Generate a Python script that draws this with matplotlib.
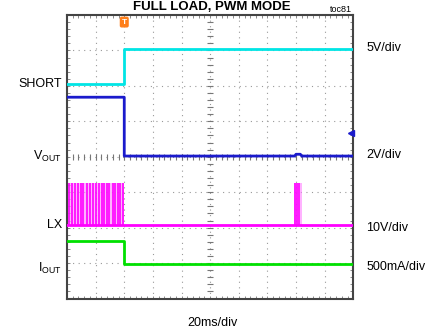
import numpy as np
import matplotlib
matplotlib.use('Agg')
import matplotlib.pyplot as plt

plt.rcParams['font.family'] = ['Liberation Sans']

# traces, x in divisions (20ms/div), y in divisions
cyan_t = [0, 2.0, 2.0, 10]
cyan_v = [6.05, 6.05, 7.05, 7.05]
blue_t = [0, 2.0, 2.0, 7.95, 8.0, 8.15, 8.2, 10]
blue_v = [5.68, 5.68, 4.02, 4.02, 4.07, 4.07, 4.02, 4.02]
green_t = [0, 2.0, 2.0, 10]
green_v = [1.63, 1.63, 0.97, 0.97]
lx_base = 2.08
lx_top = 3.27
lx_pulses = [0.07, 0.17, 0.28, 0.40, 0.48, 0.57, 0.69, 0.80, 0.92, 1.01,
             1.13, 1.21, 1.30, 1.38, 1.47, 1.59, 1.67, 1.78, 1.84, 1.94,
             7.95, 8.03, 8.12]
lx_bursts = [(0.0, 2.0), (7.92, 8.2)]
trigger_t = 2.0

left_labels = [('SHORT', 6.06), ('V$_{\\mathregular{OUT}}$', 4.0), ('LX', 2.08), ('I$_{\\mathregular{OUT}}$', 0.86)]
right_labels = [('5V/div', 7.07), ('2V/div', 4.05), ('10V/div', 2.0), ('500mA/div', 0.9)]

fig = plt.figure(figsize=(4.35, 3.31), dpi=100)
ax = fig.add_axes([67/435, 1-298.5/331, (353.3-67)/435, (298.5-15)/331])
ax.set_xlim(0, 10)
ax.set_ylim(0, 8)

# grid
for gx in range(1, 10):
    ax.axvline(gx, color='#999999', lw=0.8, ls=(0, (1, 4)), zorder=1)
for gy in range(1, 8):
    ax.axhline(gy, color='#999999', lw=0.8, ls=(0, (1, 4)), zorder=1)
mt = np.arange(0, 10.01, 0.2)
ax.plot(mt, [4]*len(mt), ls='none', marker='|', ms=4, color='#777777', mew=0.8, zorder=1)
mt = np.arange(0, 8.01, 0.2)
ax.plot([5]*len(mt), mt, ls='none', marker='_', ms=4, color='#777777', mew=0.8, zorder=1)

ax.set_xticks(np.arange(0, 10.01, 0.2))
ax.set_yticks(np.arange(0, 8.01, 0.2))
ax.tick_params(direction='in', length=2.5, width=0.6, color='#777777',
               top=True, right=True, labelbottom=False, labelleft=False)
for s in ax.spines.values():
    s.set_color('#444444')
    s.set_linewidth(1.5)

# LX
for a, b in lx_bursts:
    ax.fill_between([a, b], lx_base, lx_top, color='#ff80ff', alpha=0.6, lw=0, zorder=2)
ax.vlines(lx_pulses, lx_base, lx_top, color='#ff00ff', lw=1.2, zorder=3)
ax.plot([0, 10], [lx_base, lx_base], color='#ff00ff', lw=2, zorder=3)

ax.plot(cyan_t, cyan_v, color='#00e5e5', lw=2, zorder=3)
ax.plot(blue_t, blue_v, color='#1a1acc', lw=2, zorder=3)
ax.plot(green_t, green_v, color='#00e000', lw=2, zorder=3)

# markers
ax.plot([9.92], [4.67], marker='<', color='#1a1acc', ms=4, clip_on=False, zorder=4)
ax.text(trigger_t, 7.8, 'T', color='white', fontsize=6, fontweight='bold', ha='center', va='center',
        bbox=dict(boxstyle='round,pad=0.15', fc='#ff7f1a', ec='#ff7f1a'), zorder=5)

for txt, y in left_labels:
    ax.text(-0.18, y, txt, ha='right', va='center', fontsize=9, transform=ax.transData)
for txt, y in right_labels:
    ax.text(10.45, y, txt, ha='left', va='center', fontsize=9, transform=ax.transData)

fig.text(212/435, 1-0.5/331, 'FULL LOAD, PWM MODE', ha='center', va='top', fontsize=9.5, fontweight='bold')
fig.text(352/435, 1-9/331, 'toc81', ha='right', va='center', fontsize=6.5)
fig.text(212/435, 1-323/331, '20ms/div', ha='center', va='center', fontsize=9)

fig.savefig('out.png', dpi=100)
